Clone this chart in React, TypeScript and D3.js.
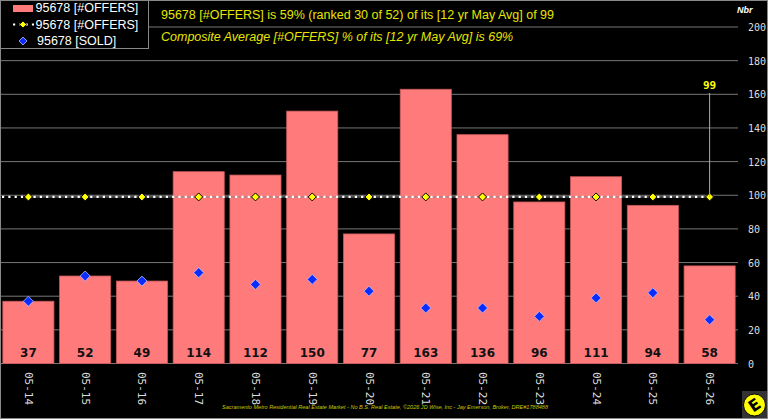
import React from "react";
import * as d3 from "d3";

// Monthly snapshots (May of each year)
const categories = ["05-14", "05-15", "05-16", "05-17", "05-18", "05-19", "05-20", "05-21", "05-22", "05-23", "05-24", "05-25", "05-26"];
const offers = [37, 52, 49, 114, 112, 150, 77, 163, 136, 96, 111, 94, 58];
const sold = [37, 52, 49, 54, 47, 50, 43, 33, 33, 28, 39, 42, 26];
const offersAvg = [99, 99, 99, 99, 99, 99, 99, 99, 99, 99, 99, 99, 99];
const yTicks = [0, 20, 40, 60, 80, 100, 120, 140, 160, 180, 200];

const legendLabels = ["95678 [#OFFERS]", "95678 [#OFFERS]", "95678 [SOLD]"];
const titleLine1 = "95678 [#OFFERS] is 59% (ranked 30 of 52) of its [12 yr May Avg] of 99";
const titleLine2 = "Composite Average [#OFFERS] % of its [12 yr May Avg] is 69%";
const footer = "Sacramento Metro Residential Real Estate Market - No B.S. Real Estate, \u00A92026 JD Wise, Inc - Jay Emerson, Broker, DRE#1788488";

const W = 768;
const H = 419;
const plot = { left: 0, right: 738, top: 27, bottom: 363.5 };

const SANS = "'Liberation Sans', Arial, sans-serif";
const MONO = "'DejaVu Sans Mono', monospace";

function diamond(cx: number, cy: number, r: number) {
  return `M${cx},${cy - r}L${cx + r},${cy}L${cx},${cy + r}L${cx - r},${cy}Z`;
}

export default function App() {
  const x = d3.scaleBand<string>().domain(categories).range([plot.left, plot.right]).paddingInner(0.1).paddingOuter(0.05);
  const y = d3.scaleLinear().domain([0, 200]).range([plot.bottom, plot.top]);
  const cx = (c: string) => (x(c) ?? 0) + x.bandwidth() / 2;

  const avgLine = d3
    .line<number>()
    .x((_, i) => cx(categories[i]))
    .y((d) => y(d));

  const lastIdx = categories.length - 1;
  const lastX = cx(categories[lastIdx]);
  const lastY = y(offersAvg[lastIdx]);

  return (
    <svg width={W} height={H} style={{ position: "absolute", left: 0, top: 0, background: "#000" }}>
      <rect x={0} y={0} width={W} height={H} fill="#000" />

      {/* horizontal grid */}
      {yTicks.map((t) => (
        <line key={t} x1={plot.left} x2={plot.right} y1={y(t)} y2={y(t)} stroke="#777" strokeWidth={1} />
      ))}

      {/* offers bars */}
      {offers.map((v, i) => (
        <rect
          key={categories[i]}
          x={x(categories[i])}
          y={y(v)}
          width={x.bandwidth()}
          height={y(0) - y(v)}
          fill="#ff7b7b"
          stroke="#c85a5a"
          strokeWidth={0.8}
        />
      ))}

      {/* value labels */}
      {offers.map((v, i) => (
        <text
          key={"l" + i}
          x={cx(categories[i])}
          y={357}
          textAnchor="middle"
          fontFamily="'DejaVu Sans', sans-serif"
          fontWeight="bold"
          fontSize={12}
          fill="#111"
        >
          {v}
        </text>
      ))}

      {/* 12 yr average line */}
      <path d={avgLine(offersAvg) ?? ""} fill="none" stroke="#888" strokeWidth={1} />
      <path d={`M${plot.left + 2},${lastY}L${lastX},${lastY}`} fill="none" stroke="#fff" strokeWidth={2.2} strokeDasharray="2.2,4.1" />
      {offersAvg.map((v, i) => (
        <path key={"a" + i} d={diamond(cx(categories[i]), y(v), 4)} fill="#ffff00" stroke="#000" strokeWidth={1} />
      ))}

      {/* sold markers */}
      {sold.map((v, i) => (
        <path key={"s" + i} d={diamond(cx(categories[i]), y(v), 5)} fill="#0a2cff" stroke="#b8bcff" strokeWidth={0.8} />
      ))}

      {/* last average callout */}
      <line x1={lastX} x2={lastX} y1={93} y2={lastY} stroke="#aaa" strokeWidth={1} />
      <text x={lastX} y={89} textAnchor="middle" fontFamily={MONO} fontWeight="bold" fontSize={11} fill="#ffff00">
        {offersAvg[lastIdx]}
      </text>

      {/* y axis on the right */}
      {yTicks.map((t) => (
        <text key={"t" + t} x={748} y={y(t) + 4} fontFamily={MONO} fontSize={10} fill="#ddd">
          {t}
        </text>
      ))}
      <text x={737} y={13} fontFamily={SANS} fontWeight="bold" fontStyle="italic" fontSize={9} fill="#fff">
        Nbr
      </text>

      {/* x axis labels */}
      {categories.map((c) => (
        <text
          key={"x" + c}
          transform={`translate(${cx(c)},372) rotate(90)`}
          dominantBaseline="central"
          fontFamily={MONO}
          fontSize={11}
          fill="#ddd"
        >
          {c}
        </text>
      ))}

      {/* legend */}
      <rect x={0.5} y={0.5} width={148} height={48} fill="#000" stroke="#888" strokeWidth={1} />
      <rect x={13} y={5} width={20} height={7} fill="#ff7b7b" />
      <line x1={13} x2={34} y1={24.5} y2={24.5} stroke="#fff" strokeWidth={2.2} strokeDasharray="2.2,4.1" />
      <path d={diamond(23, 24.5, 3.5)} fill="#ffff00" stroke="#000" strokeWidth={0.8} />
      <path d={diamond(23, 41, 4)} fill="#0a2cff" stroke="#b8bcff" strokeWidth={0.8} />
      {legendLabels.map((l, i) => (
        <text key={"g" + i} x={i === 2 ? 37 : 35.5} y={12 + i * 16.5} fontFamily={SANS} fontSize={12.5} fill="#fff">
          {l}
        </text>
      ))}

      {/* title block */}
      <line x1={148.5} x2={148.5} y1={0} y2={27} stroke="#888" strokeWidth={1} />
      <text x={161} y={19} fontFamily={SANS} fontSize={12.5} fill="#e6e600">
        {titleLine1}
      </text>
      <text x={161} y={40.5} fontFamily={SANS} fontStyle="italic" fontSize={12.5} fill="#e6e600">
        {titleLine2}
      </text>

      {/* footer */}
      <text x={222} y={409} fontFamily={SANS} fontStyle="italic" fontSize={6.2} fill="#c8c800" textLength={326} lengthAdjust="spacingAndGlyphs">
        {footer}
      </text>

      {/* logo */}
      <rect x={742} y={391} width={25} height={27} fill="#333" />
      <circle cx={754.5} cy={405} r={11} fill="#ffff00" />
      <circle cx={754.5} cy={405} r={11} fill="none" stroke="#000" strokeWidth={1} />
      <text
        transform="translate(754.5,405) rotate(-35)"
        textAnchor="middle"
        dominantBaseline="central"
        fontFamily="'DejaVu Sans', sans-serif"
        fontWeight="bold"
        fontSize={16}
        fill="#000"
      >
        E
      </text>

      {/* frame */}
      <rect x={0.5} y={0.5} width={W - 1} height={H - 1} fill="none" stroke="#888" strokeWidth={1} />
    </svg>
  );
}
